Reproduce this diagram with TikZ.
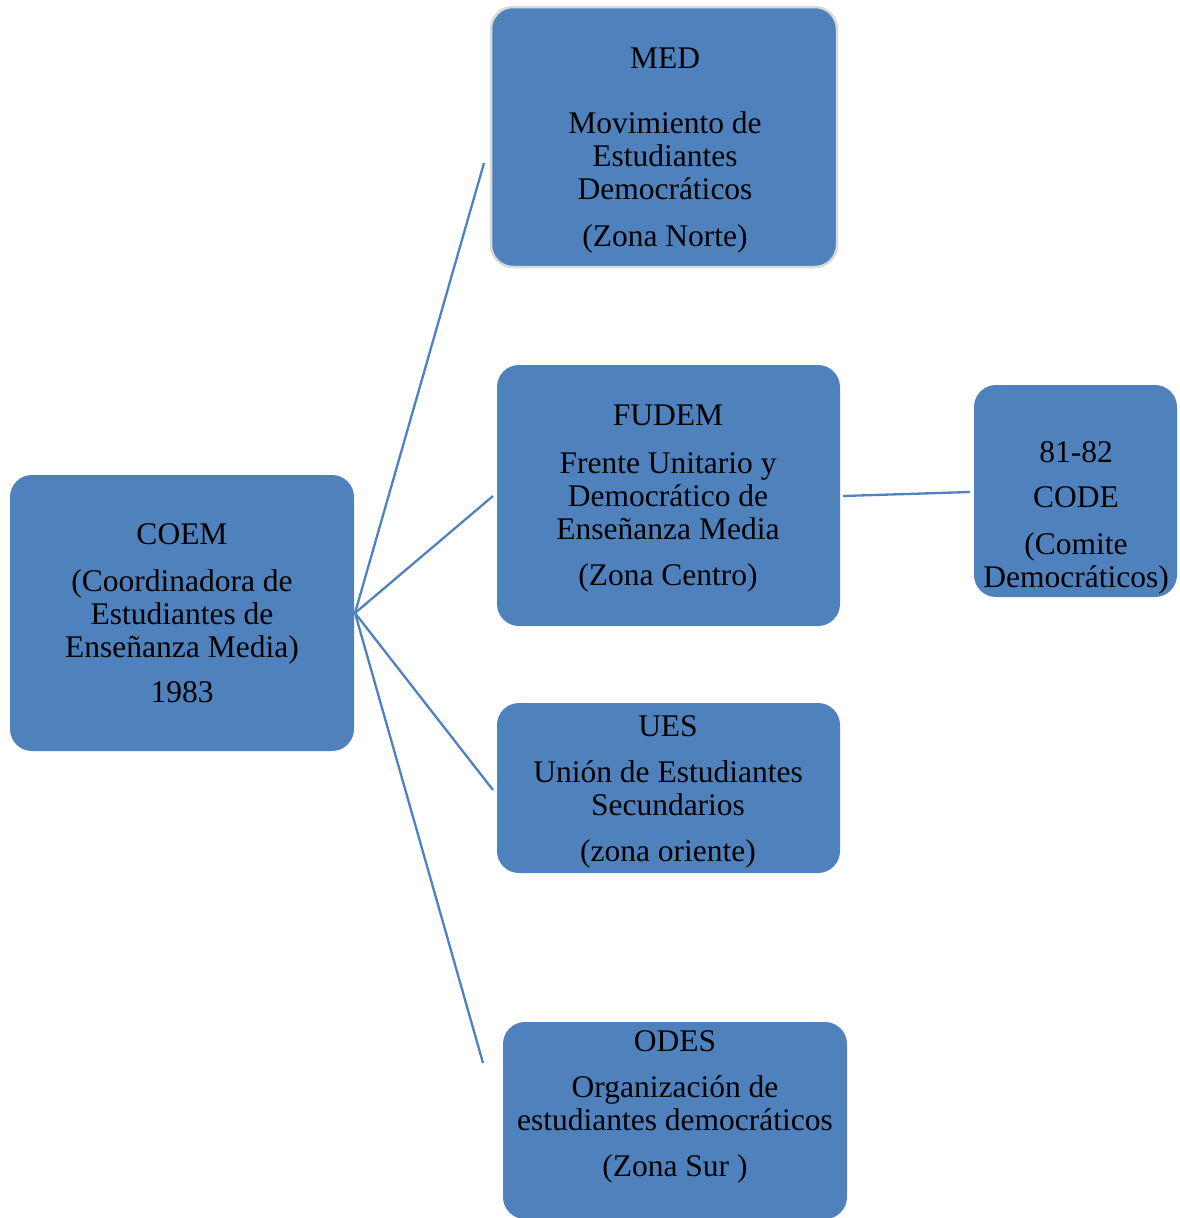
\documentclass[tikz,border=0pt]{standalone}
\usepackage{fontspec}
\setmainfont{Liberation Serif}
\definecolor{boxblue}{HTML}{4F81BD}
\definecolor{rimgray}{HTML}{DADADA}
\begin{document}
\begin{tikzpicture}[x=1pt,y=-1pt,
  box/.style={draw=none,fill=boxblue,rounded corners=22pt,inner sep=0pt},
  txt/.style={align=center,inner sep=0pt,font=\fontsize{31.5}{33}\selectfont},
  link/.style={draw=boxblue,line width=2.3pt}]
\useasboundingbox (0,0) rectangle (1180,1218);
% boxes
\node[box,minimum width=344pt,minimum height=276pt] (coem) at (182,613) {};
\node[box,draw=rimgray,line width=2.5pt,minimum width=346pt,minimum height=260pt] (med) at (664,137) {};
\node[box,minimum width=343pt,minimum height=261pt] (fudem) at (668.5,495.5) {};
\node[box,minimum width=203pt,minimum height=212pt] (code) at (1075.5,491) {};
\node[box,minimum width=343pt,minimum height=170pt] (ues) at (668.5,788) {};
\node[box,minimum width=344pt,minimum height=197pt] (odes) at (675,1120.5) {};
% texts
\node[txt] (coemt) at (182,613.5) {COEM\\[14pt](Coordinadora de\\Estudiantes de\\Enseñanza Media)\\[12pt]1983};
\node[txt] (medt) at (665,150.5) {MED\\[32pt]Movimiento de\\Estudiantes\\Democráticos\\[14pt](Zona Norte)};
\node[txt] (fudemt) at (668,498.5) {FUDEM\\[15pt]Frente Unitario y\\Democrático de\\Enseñanza Media\\[13pt](Zona Centro)};
\node[txt] (codet) at (1076,517.5) {81-82\\[12pt]CODE\\[14pt](Comite\\Democráticos)};
\node[txt] (uest) at (668,792.2) {UES\\[13pt]Unión de Estudiantes\\Secundarios\\[13pt](zona oriente)};
\node[txt] (odest) at (675,1107.2) {ODES\\[13pt]Organización de\\estudiantes democráticos\\[13pt](Zona Sur )};
% connector end points
\coordinate (hub) at (355,613);
\coordinate (medend) at (484,163);
\coordinate (fudemend) at (493,496);
\coordinate (uesend) at (493,790);
\coordinate (odesend) at (483,1063);
\coordinate (fudemout) at (843,496);
\coordinate (codein) at (970,492);
\draw[link] (hub) -- (medend);
\draw[link] (hub) -- (fudemend);
\draw[link] (hub) -- (uesend);
\draw[link] (hub) -- (odesend);
\draw[link] (fudemout) -- (codein);
\end{tikzpicture}
\end{document}
